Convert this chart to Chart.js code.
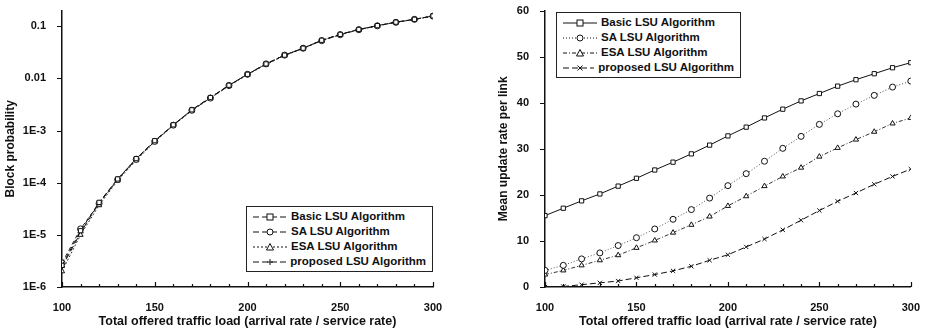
<!DOCTYPE html>
<html lang="en">
<head>
  <meta charset="UTF-8" />
  <title>LSU Algorithm comparison</title>
  <script src="https://cdn.jsdelivr.net/npm/chart.js"></script>
  <style>
    body { margin: 0; background: #fff; font-family: "Liberation Sans", Arial, sans-serif; }
    .wrap { position: relative; width: 926px; height: 333px; overflow: hidden; }
    .panel { position: absolute; top: -4px; width: 463px; height: 337px; }
    .legend { position: absolute; border: 1px solid #222; background: #fff; padding: 2px 6px 2px 6px;
              font-weight: bold; font-size: 11.5px; color: #111; line-height: 15px; }
    .legend div { display: flex; align-items: center; white-space: nowrap; }
    .legend svg { margin-right: 4px; }
  </style>
</head>
<body>
<div class="wrap">
  <div class="panel" style="left:0"><canvas id="blockChart" width="463" height="337"></canvas></div>
  <div class="panel" style="left:463px"><canvas id="rateChart" width="463" height="337"></canvas></div>
  <div class="legend" id="legendLeft" style="left:246px; top:206px; width:173px;"></div>
  <div class="legend" id="legendRight" style="left:556px; top:12px; width:171px;"></div>
</div>

<script>
  const loads = [100, 110, 120, 130, 140, 150, 160, 170, 180, 190, 200, 210, 220, 230, 240, 250, 260, 270, 280, 290, 300];
  const seriesNames = ['Basic LSU Algorithm', 'SA LSU Algorithm', 'ESA LSU Algorithm', 'proposed LSU Algorithm'];

  // block probability (left)
  const blockBasic = [2.6e-6, 1.2e-5, 4.2e-5, 1.18e-4, 2.9e-4, 6.4e-4, 1.29e-3, 2.5e-3, 4.3e-3, 7.4e-3, 0.012, 0.019, 0.028, 0.038, 0.054, 0.070, 0.087, 0.103, 0.120, 0.136, 0.158];
  const blockSA = [2.9e-6, 1.3e-5, 4.0e-5, 1.15e-4, 2.8e-4, 6.2e-4, 1.27e-3, 2.45e-3, 4.2e-3, 7.3e-3, 0.012, 0.019, 0.028, 0.038, 0.053, 0.069, 0.086, 0.102, 0.119, 0.136, 0.157];
  const blockESA = [2.0e-6, 1.0e-5, 3.7e-5, 1.1e-4, 2.7e-4, 6.1e-4, 1.25e-3, 2.4e-3, 4.2e-3, 7.2e-3, 0.0118, 0.0185, 0.0275, 0.0375, 0.053, 0.069, 0.086, 0.102, 0.120, 0.135, 0.157];
  const blockProposed = [2.4e-6, 1.1e-5, 4.1e-5, 1.16e-4, 2.9e-4, 6.3e-4, 1.28e-3, 2.5e-3, 4.3e-3, 7.4e-3, 0.012, 0.019, 0.028, 0.038, 0.054, 0.070, 0.087, 0.103, 0.120, 0.136, 0.158];
  const probTicks = [1e-6, 1e-5, 1e-4, 1e-3, 0.01, 0.1];
  const probTickLabels = ['1E-6', '1E-5', '1E-4', '1E-3', '0.01', '0.1'];

  // mean update rate (right)
  const rateBasic = [15.5, 17.1, 18.7, 20.2, 21.9, 23.6, 25.4, 27.1, 28.9, 30.8, 32.8, 34.7, 36.7, 38.6, 40.4, 42.0, 43.6, 45.0, 46.3, 47.6, 48.7];
  const rateSA = [3.6, 4.7, 6.1, 7.4, 9.0, 10.7, 12.6, 14.7, 16.8, 19.3, 22.0, 24.6, 27.3, 30.1, 32.7, 35.3, 37.6, 39.7, 41.6, 43.4, 44.7];
  const rateESA = [2.7, 3.6, 4.7, 5.8, 6.9, 8.5, 10.1, 11.8, 13.5, 15.3, 17.6, 19.7, 21.9, 24.0, 25.9, 28.3, 30.2, 32.0, 33.7, 35.5, 36.7];
  const rateProposed = [0.0, 0.1, 0.5, 0.9, 1.3, 2.0, 2.7, 3.5, 4.5, 5.8, 7.0, 8.7, 10.4, 12.4, 14.5, 16.6, 18.6, 20.4, 22.3, 24.0, 25.6];

  const FONT = '"Liberation Sans", Arial, sans-serif';
  const toPoints = arr => loads.map((x, i) => ({ x: x, y: arr[i] }));

  function ds(label, values, pointStyle, dash, color) {
    return {
      label: label,
      data: toPoints(values),
      borderColor: color,
      borderWidth: 1,
      borderDash: dash,
      pointStyle: pointStyle,
      pointRadius: 3,
      pointBackgroundColor: '#fff',
      pointBorderColor: '#111',
      pointBorderWidth: 1,
      tension: 0
    };
  }

  // tick marks: x ticks inward, y ticks outward
  const tickMarks = {
    id: 'tickMarks',
    afterDraw(chart) {
      const ctx = chart.ctx;
      const xs = chart.scales.x, ys = chart.scales.y;
      ctx.save();
      ctx.strokeStyle = '#111';
      ctx.lineWidth = 1.2;
      ctx.beginPath();
      xs.ticks.forEach(t => {
        const px = Math.round(xs.getPixelForValue(t.value)) + 0.5;
        const len = t.value % 50 === 0 ? 5 : 3;
        ctx.moveTo(px, ys.bottom);
        ctx.lineTo(px, ys.bottom - len);
      });
      ys.ticks.forEach(t => {
        const py = Math.round(ys.getPixelForValue(t.value)) + 0.5;
        ctx.moveTo(xs.left, py);
        ctx.lineTo(xs.left - 5, py);
      });
      ctx.stroke();
      ctx.restore();
    }
  };

  function xAxis() {
    return {
      type: 'linear', min: 100, max: 300,
      border: { display: true, color: '#111', width: 1.5 },
      grid: { display: false },
      ticks: {
        stepSize: 10, autoSkip: false, maxRotation: 0, padding: 6,
        color: '#111', font: { family: FONT, size: 11, weight: 'bold' },
        callback: v => (v % 50 === 0 ? String(v) : '')
      },
      title: { display: true, text: 'Total offered traffic load (arrival rate / service rate)',
               color: '#111', font: { family: FONT, size: 12.5, weight: 'bold' }, padding: { top: 2, bottom: 4 } },
      afterFit: s => { s.height = 46; }
    };
  }

  new Chart(document.getElementById('blockChart'), {
    type: 'line',
    data: {
      datasets: [
        ds(seriesNames[0], blockBasic, 'rect', [5, 3], '#111'),
        ds(seriesNames[1], blockSA, 'circle', [4, 3], '#222'),
        ds(seriesNames[2], blockESA, 'triangle', [2, 2], '#333'),
        ds(seriesNames[3], blockProposed, 'cross', [6, 3], '#111')
      ]
    },
    options: {
      responsive: false, animation: false,
      layout: { padding: { left: 3, right: 30, top: 6, bottom: 0 } },
      plugins: { legend: { display: false }, tooltip: { enabled: false } },
      scales: {
        x: xAxis(),
        y: {
          type: 'logarithmic', min: 1e-6, max: 0.2,
          border: { display: true, color: '#111', width: 1.5 },
          grid: { display: false },
          afterBuildTicks: s => { s.ticks = probTicks.map(v => ({ value: v })); },
          ticks: {
            padding: 8, color: '#111', font: { family: FONT, size: 11, weight: 'bold' },
            callback: v => probTickLabels[probTicks.indexOf(v)]
          },
          title: { display: true, text: 'Block probability', color: '#111',
                   font: { family: FONT, size: 12, weight: 'bold' }, padding: { top: 0, bottom: 2 } },
          afterFit: s => { s.width = 59; }
        }
      }
    },
    plugins: [tickMarks]
  });

  new Chart(document.getElementById('rateChart'), {
    type: 'line',
    data: {
      datasets: [
        ds(seriesNames[0], rateBasic, 'rect', [], '#111'),
        ds(seriesNames[1], rateSA, 'circle', [1, 2], '#555'),
        ds(seriesNames[2], rateESA, 'triangle', [4, 2, 1, 2], '#333'),
        ds(seriesNames[3], rateProposed, 'crossRot', [6, 3], '#111')
      ]
    },
    options: {
      responsive: false, animation: false,
      layout: { padding: { left: 33, right: 10, top: 6, bottom: 0 } },
      plugins: { legend: { display: false }, tooltip: { enabled: false } },
      scales: {
        x: xAxis(),
        y: {
          type: 'linear', min: 0, max: 60,
          border: { display: true, color: '#111', width: 1.5 },
          grid: { display: false },
          ticks: { stepSize: 10, padding: 8, color: '#111', font: { family: FONT, size: 11, weight: 'bold' } },
          title: { display: true, text: 'Mean update rate per link', color: '#111',
                   font: { family: FONT, size: 12, weight: 'bold' }, padding: { top: 0, bottom: 2 } },
          afterFit: s => { s.width = 49; }
        }
      }
    },
    plugins: [tickMarks]
  });

  // legends drawn as html rows with a small svg line sample
  function marker(style) {
    if (style === 'rect') return '<rect x="14" y="2" width="6" height="6" fill="#fff" stroke="#111"/>';
    if (style === 'circle') return '<circle cx="17" cy="5" r="3" fill="#fff" stroke="#111"/>';
    if (style === 'triangle') return '<polygon points="17,1.5 20.5,8 13.5,8" fill="#fff" stroke="#111"/>';
    if (style === 'cross') return '<path d="M17 2 V8 M14 5 H20" stroke="#111"/>';
    return '<path d="M14.5 2.5 L19.5 7.5 M19.5 2.5 L14.5 7.5" stroke="#111"/>';
  }
  function buildLegend(id, styles, dashes) {
    const el = document.getElementById(id);
    el.innerHTML = seriesNames.map((name, i) =>
      '<div><svg width="34" height="10"><line x1="0" y1="5" x2="34" y2="5" stroke="#111" stroke-width="1" stroke-dasharray="' +
      dashes[i] + '"/>' + marker(styles[i]) + '</svg><span>' + name + '</span></div>').join('');
  }
  buildLegend('legendLeft', ['rect', 'circle', 'triangle', 'cross'], ['6,3', '6,3', '2,2', '6,3']);
  buildLegend('legendRight', ['rect', 'circle', 'triangle', 'crossRot'], ['', '1,2', '4,2,1,2', '6,3']);
</script>
</body>
</html>
